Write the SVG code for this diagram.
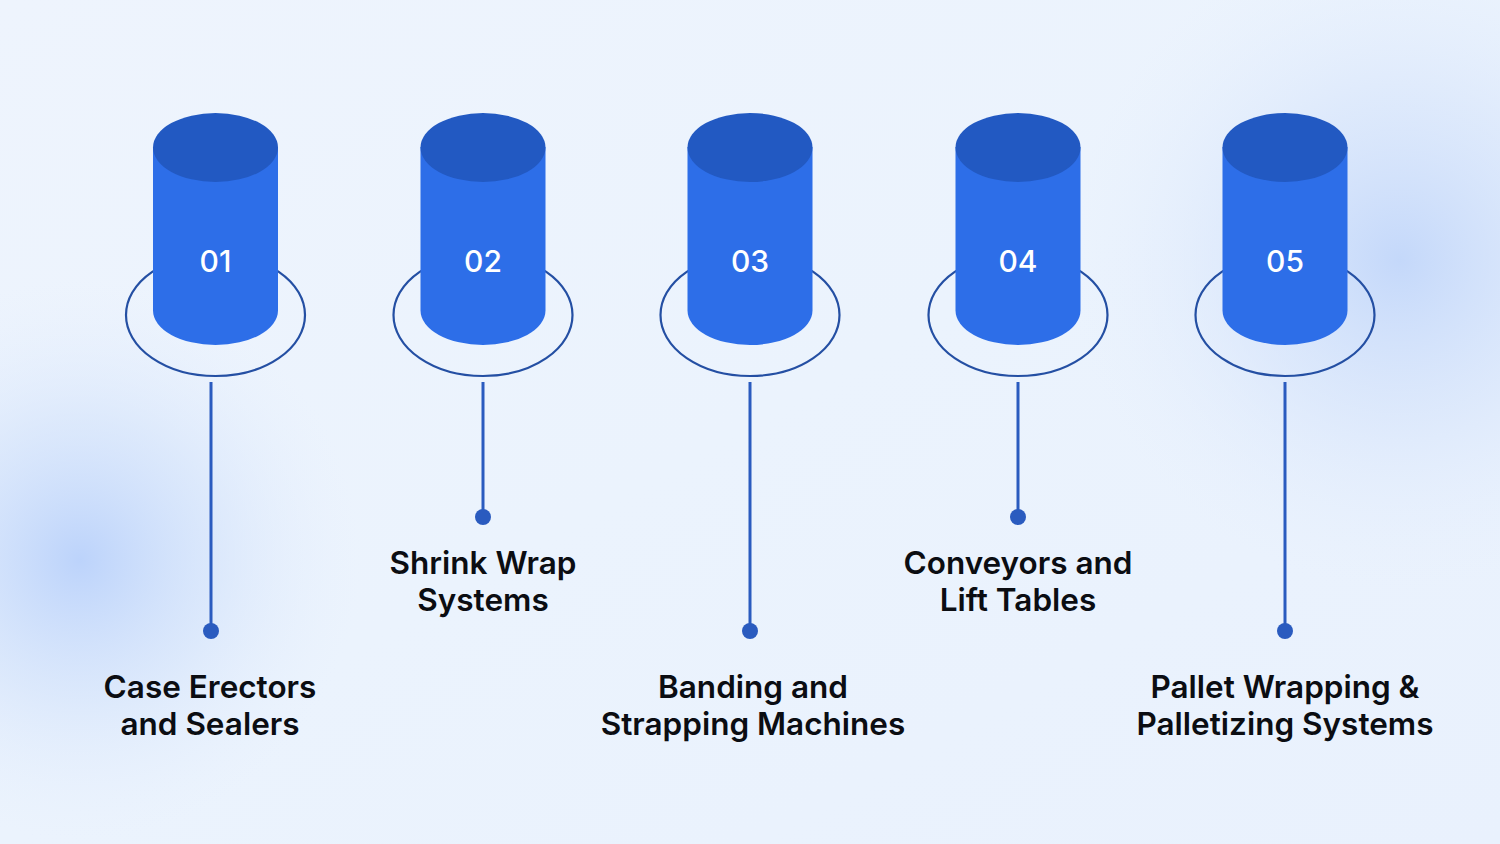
<svg xmlns="http://www.w3.org/2000/svg" width="1500" height="844" viewBox="0 0 1500 844">
<defs>
<linearGradient id="bg" x1="0" y1="0" x2="1" y2="1">
<stop offset="0" stop-color="#eef4fd"/>
<stop offset="0.5" stop-color="#ebf3fd"/>
<stop offset="1" stop-color="#e9f1fd"/>
</linearGradient>
<radialGradient id="blobL" cx="80" cy="560" r="280" gradientUnits="userSpaceOnUse">
<stop offset="0" stop-color="#bcd3fb" stop-opacity="1"/>
<stop offset="0.5" stop-color="#d2e2fb" stop-opacity="0.6"/>
<stop offset="1" stop-color="#e6effd" stop-opacity="0"/>
</radialGradient>
<radialGradient id="blobR" cx="1400" cy="260" r="330" gradientUnits="userSpaceOnUse">
<stop offset="0" stop-color="#c4d8fa" stop-opacity="1"/>
<stop offset="0.5" stop-color="#d6e4fb" stop-opacity="0.6"/>
<stop offset="1" stop-color="#e6effd" stop-opacity="0"/>
</radialGradient>
<g id="cyl">
<path d="M-62.5,147 L-62.5,310.5 A62.5,34.5 0 0 0 62.5,310.5 L62.5,147 Z" fill="#2d6ee8"/>
<ellipse cx="0" cy="147.5" rx="62.5" ry="34.5" fill="#2259c2"/>
</g>
</defs>
<style>
.num{font-family:Inter,"Liberation Sans",sans-serif;font-size:30px;font-weight:500;fill:#ffffff;text-anchor:middle}
.lbl{font-family:Inter,"Liberation Sans",sans-serif;font-size:31.5px;font-weight:600;fill:#0b0d12;text-anchor:middle}
.ring{fill:none;stroke:#244fa3;stroke-width:2.2}
.conn line{stroke:#2a5bbf;stroke-width:3}
.conn circle{fill:#2a5bbf}
</style>
<rect width="1500" height="844" fill="url(#bg)"/>
<rect width="1500" height="844" fill="url(#blobL)"/>
<rect width="1500" height="844" fill="url(#blobR)"/>

<g id="connectors" class="conn">
<line x1="211" y1="382" x2="211" y2="631"/><circle cx="211" cy="631" r="8"/>
<line x1="483" y1="382" x2="483" y2="517"/><circle cx="483" cy="517" r="8"/>
<line x1="750" y1="382" x2="750" y2="631"/><circle cx="750" cy="631" r="8"/>
<line x1="1018" y1="382" x2="1018" y2="517"/><circle cx="1018" cy="517" r="8"/>
<line x1="1285" y1="382" x2="1285" y2="631"/><circle cx="1285" cy="631" r="8"/>
</g>

<g id="node1">
<ellipse class="ring" cx="215.5" cy="315" rx="89.5" ry="61"/>
<use href="#cyl" x="215.5"/>
<text class="num" x="215.5" y="272">01</text>
<text class="lbl" x="210" y="698">Case Erectors</text>
<text class="lbl" x="210" y="735">and Sealers</text>
</g>
<g id="node2">
<ellipse class="ring" cx="483" cy="315" rx="89.5" ry="61"/>
<use href="#cyl" x="483"/>
<text class="num" x="483" y="272">02</text>
<text class="lbl" x="483" y="574">Shrink Wrap</text>
<text class="lbl" x="483" y="611">Systems</text>
</g>
<g id="node3">
<ellipse class="ring" cx="750" cy="315" rx="89.5" ry="61"/>
<use href="#cyl" x="750"/>
<text class="num" x="750" y="272">03</text>
<text class="lbl" x="753" y="698">Banding and</text>
<text class="lbl" x="753" y="735">Strapping Machines</text>
</g>
<g id="node4">
<ellipse class="ring" cx="1018" cy="315" rx="89.5" ry="61"/>
<use href="#cyl" x="1018"/>
<text class="num" x="1018" y="272">04</text>
<text class="lbl" x="1018" y="574">Conveyors and</text>
<text class="lbl" x="1018" y="611">Lift Tables</text>
</g>
<g id="node5">
<ellipse class="ring" cx="1285" cy="315" rx="89.5" ry="61"/>
<use href="#cyl" x="1285"/>
<text class="num" x="1285" y="272">05</text>
<text class="lbl" x="1285" y="698">Pallet Wrapping &amp;</text>
<text class="lbl" x="1285" y="735">Palletizing Systems</text>
</g>
</svg>
